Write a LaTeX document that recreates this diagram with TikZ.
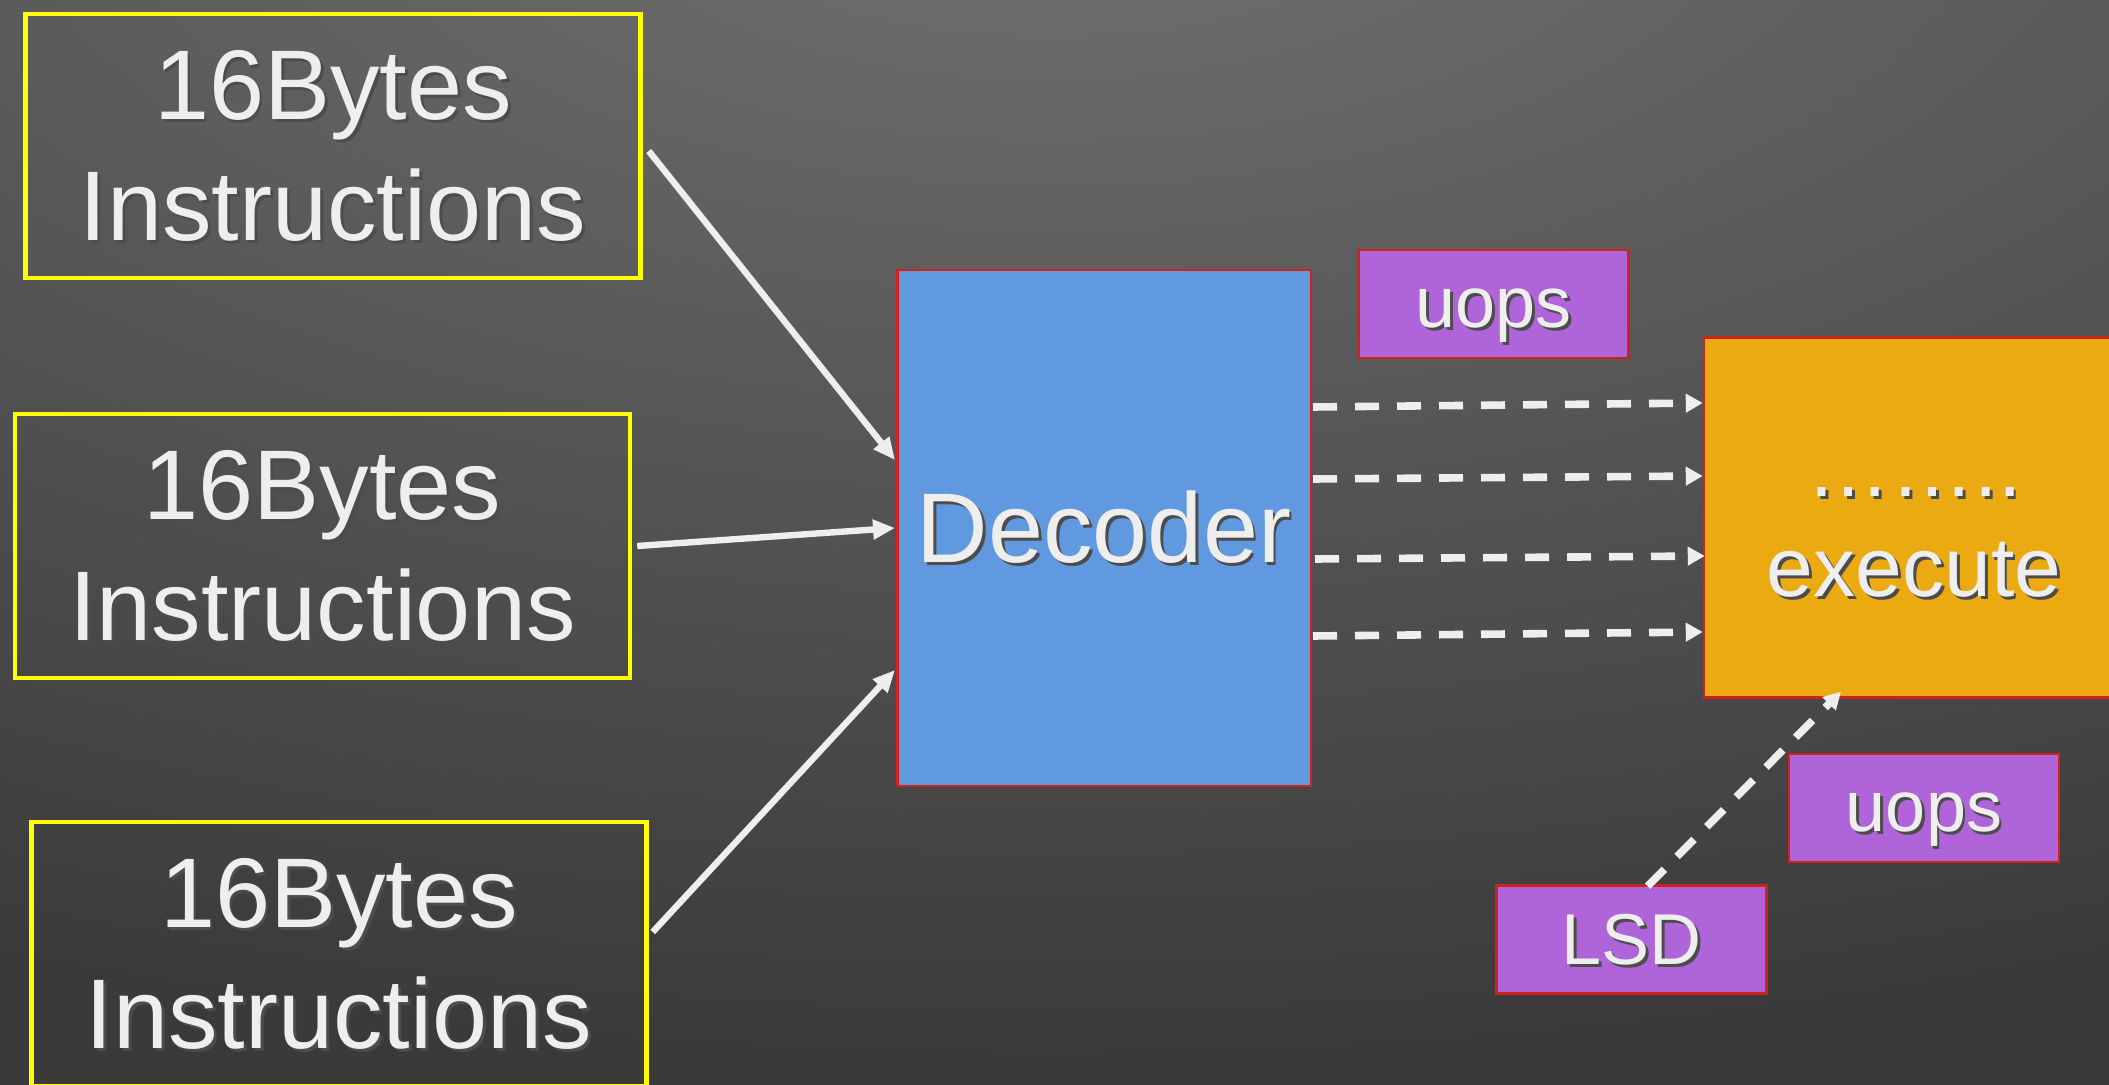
\documentclass[tikz,border=0pt]{standalone}
\usepackage{fontspec}
\setmainfont{Liberation Sans}
\usetikzlibrary{arrows.meta,calc}

\definecolor{bgInner}{HTML}{727272}
\definecolor{bgOuter}{HTML}{3A3A3A}
\definecolor{boxYellow}{HTML}{FFFF00}
\definecolor{decBlue}{HTML}{6199E0}
\definecolor{exeOrange}{HTML}{ECAA12}
\definecolor{uopPurple}{HTML}{B064DA}
\definecolor{edgeRed}{HTML}{D0221A}
\definecolor{txtWhite}{HTML}{EEEEEE}
\colorlet{shc}{black!70}

% soft backdrop, light at the top centre (25bp is the rim of the shaded path)
\pgfdeclareradialshading{backdrop}{\pgfpoint{0bp}{0bp}}{color(0bp)=(bgInner); color(25bp)=(bgOuter); color(50bp)=(bgOuter)}

% text line with a strut and a small drop shadow
\newcommand\sh[1]{\rule[-0.212em]{0pt}{1.117em}\makebox[0pt][l]{\kern1.4pt\raisebox{-1.4pt}{\textcolor{shc}{#1}}}#1}

\begin{document}
\begin{tikzpicture}[x=0.5pt,y=-0.5pt,
  inbox/.style={draw=boxYellow, line width=2.25pt, minimum width=307.5pt, minimum height=132pt,
    inner sep=0pt, align=center, text=txtWhite, font=\fontsize{49.5}{60.5}\selectfont},
  decbox/.style={draw=edgeRed, fill=decBlue, line width=1.25pt, minimum width=206.75pt,
    minimum height=257.75pt, inner sep=0pt, text=txtWhite, font=\fontsize{49.5}{60.5}\selectfont},
  exebox/.style={draw=edgeRed, fill=exeOrange, line width=1.25pt, minimum width=210pt,
    minimum height=180pt, inner sep=0pt, align=center, text=txtWhite, font=\fontsize{42}{50}\selectfont},
  uopbox/.style={draw=edgeRed, fill=uopPurple, line width=1.25pt, minimum width=135pt,
    minimum height=54pt, inner sep=0pt, text=txtWhite, font=\fontsize{36}{43}\selectfont},
  feed/.style={draw=txtWhite, line width=3.2pt, -{Triangle[length=11pt,width=9.5pt]}},
  flow/.style={draw=txtWhite, line width=3.8pt, dash pattern=on 12pt off 9pt,
    -{Triangle[length=8.5pt,width=9pt]}}]

\useasboundingbox (0,0) rectangle (2109,1085);
\begin{scope}
  \clip (0,0) rectangle (2109,1085);
  \fill[bgOuter] (0,0) rectangle (2109,1085);
  \shade[shading=backdrop] (1050,-150) ellipse[x radius=1300pt, y radius=605pt];
\end{scope}

% instruction fetch blocks
\node[inbox] (b1) at (333,146) {\sh{16Bytes}\\\sh{Instructions}};
\node[inbox] (b2) at (322.5,546) {\sh{16Bytes}\\\sh{Instructions}};
\node[inbox] (b3) at (339,954) {\sh{16Bytes}\\\sh{Instructions}};

% decoder and back end
\node[decbox] (dec) at (1104,528) {\sh{Decoder}};
\node[uopbox] (uopsT) at (1493.5,304) {\sh{uops}};
\node[exebox] (exe) at (1914,517.5) {\sh{……..}\\\sh{execute}};
\node[uopbox] (uopsB) at (1924,808) {\sh{uops}};
\node[uopbox] (lsd) at (1631.5,939.5) {\sh{LSD}};

% fetch -> decoder
\draw[feed] ($(b1.east)+(6,5)$) -- ($(dec.west)+(-1,-68)$);
\draw[feed] ($(b2.east)+(5,0)$) -- ($(dec.west)+(-1,0)$);
\draw[feed] ($(b3.east)+(4,-22)$) -- ($(dec.west)+(-1,142)$);

% decoder -> execute
\draw[flow] ($(dec.east)+(1,-121)$) -- ($(exe.west)+(0,-114.5)$);
\draw[flow] ($(dec.east)+(1,-49)$) -- ($(exe.west)+(0,-41.5)$);
\draw[flow] ($(dec.east)+(3,31)$) -- ($(exe.west)+(2,38.5)$);
\draw[flow] ($(dec.east)+(1,108)$) -- ($(exe.west)+(0,114.5)$);

% loop stream detector -> execute
\draw[flow] ($(lsd.north)+(16,2)$) -- ($(exe.south)+(-73,-7)$);
\end{tikzpicture}
\end{document}
